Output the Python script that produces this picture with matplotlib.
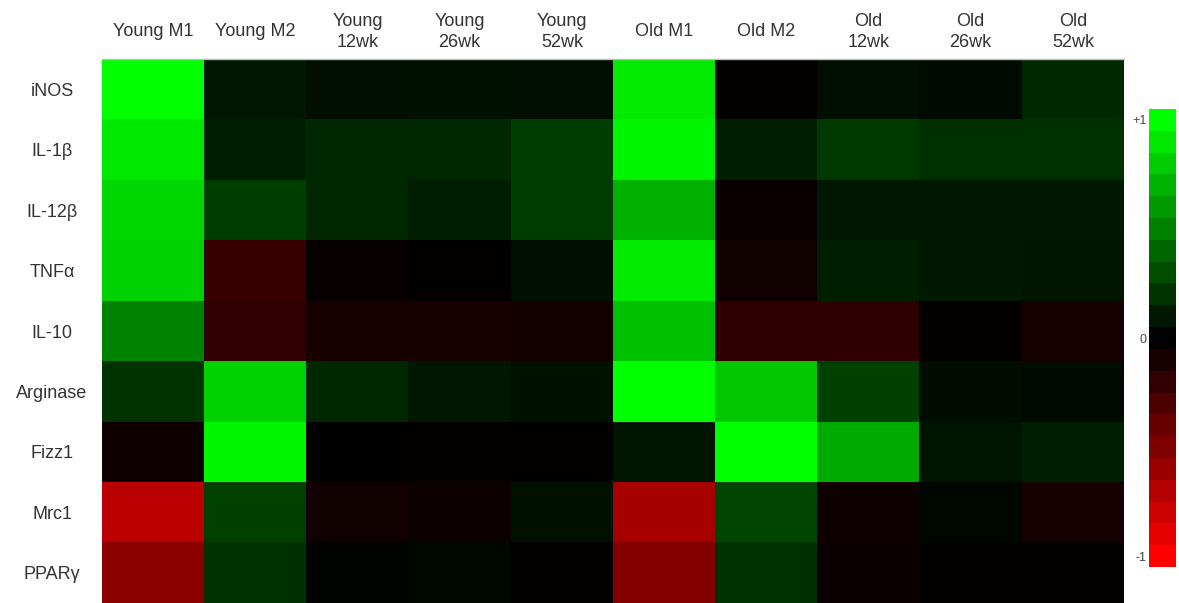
import numpy as np
import matplotlib
matplotlib.use('Agg')
import matplotlib.pyplot as plt
from matplotlib.colors import LinearSegmentedColormap, ListedColormap, BoundaryNorm
from matplotlib.colorbar import ColorbarBase
from matplotlib.transforms import blended_transform_factory

plt.rcParams['font.family'] = ['Liberation Sans', 'DejaVu Sans']

# column / row labels
groups = ['Young M1', 'Young M2', 'Young\n12wk', 'Young\n26wk', 'Young\n52wk',
          'Old M1', 'Old M2', 'Old\n12wk', 'Old\n26wk', 'Old\n52wk']
genes = ['iNOS', 'IL-1β', 'IL-12β', 'TNFα', 'IL-10', 'Arginase', 'Fizz1', 'Mrc1', 'PPARγ']

# relative expression (-1 red ... 0 black ... +1 green)
inos     = [1.00, 0.09, 0.06, 0.07, 0.06, 0.92, -0.02, 0.06, 0.04, 0.16]
il1b     = [0.90, 0.12, 0.16, 0.16, 0.24, 0.96, 0.12, 0.22, 0.18, 0.18]
il12b    = [0.84, 0.24, 0.15, 0.12, 0.24, 0.69, -0.04, 0.09, 0.10, 0.10]
tnfa     = [0.82, -0.22, -0.03, -0.01, 0.06, 0.92, -0.07, 0.12, 0.10, 0.08]
il10     = [0.51, -0.19, -0.10, -0.10, -0.08, 0.75, -0.18, -0.18, -0.02, -0.09]
arginase = [0.20, 0.82, 0.16, 0.09, 0.07, 1.00, 0.78, 0.25, 0.05, 0.04]
fizz1    = [-0.06, 0.96, 0.00, -0.02, -0.015, 0.08, 1.00, 0.67, 0.08, 0.12]
mrc1     = [-0.73, 0.25, -0.07, -0.05, 0.07, -0.65, 0.27, -0.06, 0.03, -0.09]
ppar     = [-0.55, 0.19, 0.015, 0.03, -0.02, -0.51, 0.18, -0.04, -0.01, -0.015]

data = np.array([inos, il1b, il12b, tnfa, il10, arginase, fizz1, mrc1, ppar])

cmap = LinearSegmentedColormap.from_list('rg', [(1, 0, 0), (0, 0, 0), (0, 1, 0)])

W, H = 1179, 603
fig = plt.figure(figsize=(W / 100, H / 100), dpi=100)

ax = fig.add_axes([102 / W, 0, (1124 - 102) / W, (603 - 59) / H])
ax.imshow(data, cmap=cmap, vmin=-1, vmax=1, aspect='auto', interpolation='nearest')
ax.set_xticks([])
ax.set_yticks(np.arange(len(genes)))
ax.set_yticklabels(genes, fontsize=13, color='#333333', ha='center')
ax.tick_params(axis='y', length=0, pad=36)
for sp in ax.spines.values():
    sp.set_visible(False)
ax.spines['top'].set_visible(True)
ax.spines['top'].set_color('#bbbbbb')
ax.spines['top'].set_linewidth(1)

# column headers, centred on each column, at a fixed height above the map
hdr = blended_transform_factory(ax.transData, fig.transFigure)
for j, g in enumerate(groups):
    ax.text(j, 1 - 32 / H, g, transform=hdr, ha='center', va='center',
            fontsize=13, color='#333333', linespacing=1.25, clip_on=False)

# discrete colour key
steps = np.linspace(-1, 1, 21)
key_cmap = ListedColormap(cmap((steps + 1) / 2))
bounds = np.linspace(-1.05, 1.05, 22)
cax = fig.add_axes([1149 / W, (603 - 567) / H, 27 / W, (567 - 109) / H])
cb = ColorbarBase(cax, cmap=key_cmap, norm=BoundaryNorm(bounds, 21), boundaries=bounds,
                  ticks=[-1, 0, 1], orientation='vertical')
cb.outline.set_visible(False)
cb.minorticks_off()
cax.yaxis.set_ticks_position('left')
cax.set_yticklabels(['-1', '0', '+1'])
cax.tick_params(length=0, labelsize=9, labelcolor='#444444', pad=2)

fig.savefig('out.png', dpi=100, facecolor='white')
